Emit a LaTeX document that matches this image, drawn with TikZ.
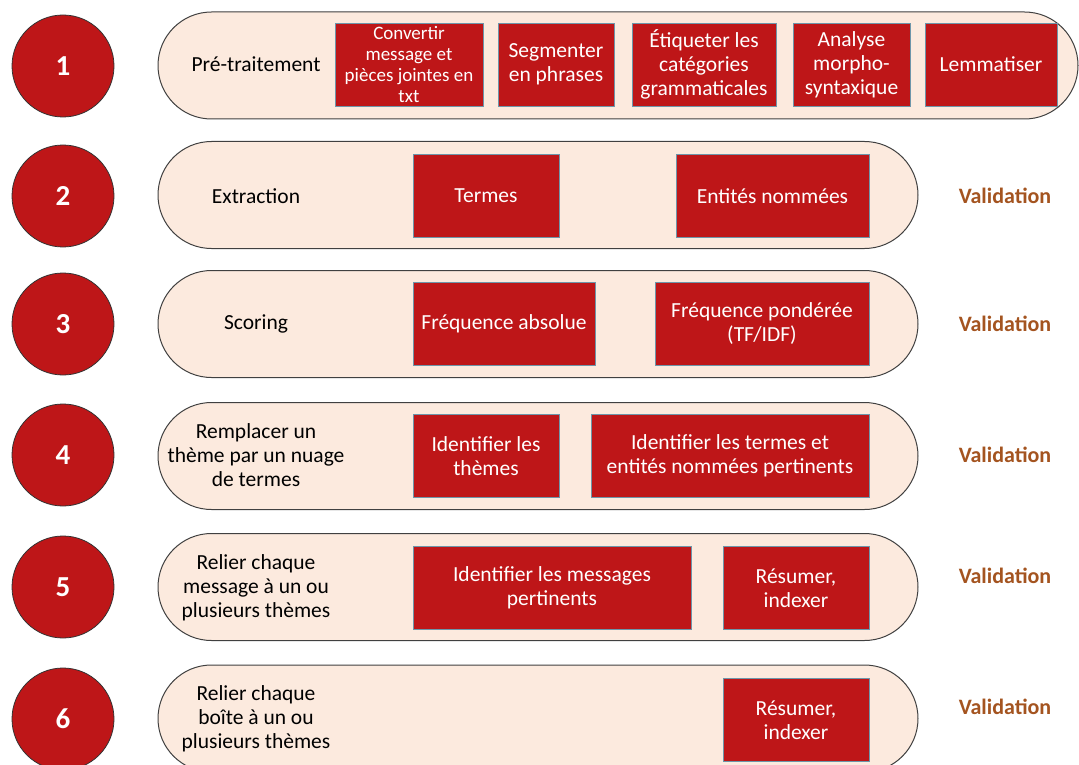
\documentclass[tikz,border=0pt]{standalone}
\usepackage{fontspec}
\setmainfont{Carlito}
\usetikzlibrary{shapes.misc}
\definecolor{stepred}{RGB}{190,22,24}
\definecolor{bandfill}{RGB}{252,234,222}
\definecolor{validbrown}{RGB}{164,84,32}
\definecolor{boxedge}{RGB}{110,150,170}
\tikzstyle{stepcircle}=[circle,fill=stepred,draw=black!80,line width=0.8pt,minimum size=102pt,inner sep=0pt,text=white,font=\fontsize{29}{34}\selectfont\bfseries]
\tikzstyle{band}=[rounded rectangle,fill=bandfill,draw=black!75,line width=1pt,minimum height=107pt,inner sep=0pt]
\tikzstyle{task}=[rectangle,fill=stepred,draw=boxedge,line width=0.6pt,text=white,align=center,minimum height=83pt,inner sep=2pt,font=\fontsize{21.5}{24}\selectfont]
\tikzstyle{phase}=[align=center,font=\fontsize{21.5}{24}\selectfont]
\tikzstyle{valid}=[text=validbrown,font=\fontsize{22}{24}\selectfont\bfseries]

\begin{document}
\begin{tikzpicture}[x=1pt,y=-1pt]
    \useasboundingbox (0,0) rectangle (1079,765);
    % First the numbered circles
    \foreach \pos/\name in {{(63,66)/1}, {(63,196)/2}, {(63,324)/3}, {(63,455)/4}, {(63,587)/5}, {(63,719)/6}}
        \node[stepcircle] (c\name) at \pos {\name};

    % Then the bands
    \node[band,minimum width=920pt] (b1) at (618,65.5) {};
    \foreach \y/\name in {195/2, 324/3, 456/4, 587/5, 718.5/6}
        \node[band,minimum width=760pt] (b\name) at (538,\y) {};

    % Phase names
    \node[phase] (p1) at (256,64) {Pré-traitement};
    \node[phase] (p2) at (256,196) {Extraction};
    \node[phase] (p3) at (256,324) {Scoring};
    \node[phase] (p4) at (256,455) {Remplacer un\\thème par un nuage\\de termes};
    \node[phase] (p5) at (256,588) {Relier chaque\\message à un ou\\plusieurs thèmes};
    \node[phase] (p6) at (256,719) {Relier chaque\\boîte à un ou\\plusieurs thèmes};

    % Tasks of row 1
    \node[task,minimum width=148pt,font=\fontsize{19}{21}\selectfont] (t11) at (409,64.5) {Convertir\\message et\\pièces jointes en\\txt};
    \node[task,minimum width=116pt] (t12) at (556,64.5) {Segmenter\\en phrases};
    \node[task,minimum width=144pt] (t13) at (704,64.5) {Étiqueter les\\catégories\\grammaticales};
    \node[task,minimum width=117pt] (t14) at (851.5,64.5) {Analyse\\morpho-\\syntaxique};
    \node[task,minimum width=132pt] (t15) at (991,64.5) {Lemmatiser};

    % Tasks of rows 2 to 6
    \node[task,minimum width=146pt] (t21) at (486,196) {Termes};
    \node[task,minimum width=193pt] (t22) at (772.5,196) {Entités nommées};
    \node[task,minimum width=182pt] (t31) at (504,324) {Fréquence absolue};
    \node[task,minimum width=214pt] (t32) at (762,324) {Fréquence pondérée\\(TF/IDF)};
    \node[task,minimum width=146pt] (t41) at (486,456) {Identifier les\\thèmes};
    \node[task,minimum width=278pt] (t42) at (730,456) {Identifier les termes et\\entités nommées pertinents};
    \node[task,minimum width=278pt] (t51) at (552,588) {Identifier les messages\\pertinents};
    \node[task,minimum width=146pt] (t52) at (796,588) {Résumer,\\indexer};
    \node[task,minimum width=146pt] (t61) at (796,720) {Résumer,\\indexer};

    % Validation marks
    \foreach \y/\name in {196/2, 324/3, 455/4, 576/5, 707/6}
        \node[valid] (v\name) at (1005,\y) {Validation};
\end{tikzpicture}
\end{document}
